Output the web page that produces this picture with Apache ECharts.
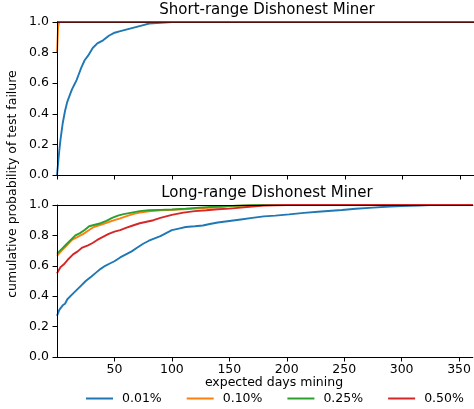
<!DOCTYPE html>
<html><head><meta charset="utf-8">
<script src="https://cdn.jsdelivr.net/npm/echarts/dist/echarts.min.js"></script>
<style>html,body{margin:0;padding:0;background:#fff}#c{width:474px;height:409px}</style>
</head><body><div id="c"></div>
<script>
const seriesNames = ['0.01%', '0.10%', '0.25%', '0.50%'];
const colors = ['#1f77b4', '#ff7f0e', '#2ca02c', '#d62728'];
const titles = ['Short-range Dishonest Miner', 'Long-range Dishonest Miner'];
const xLabel = 'expected days mining';
const yLabel = 'cumulative probability of test failure';

// Short-range panel
const shortBlue = [[0,0.0],[1,0.08],[2,0.16],[3,0.23],[5,0.34],[7,0.42],[9,0.48],[11,0.52],[13,0.56],[15,0.59],[17,0.62],[19,0.66],[21,0.70],[24,0.75],[27,0.78],[31,0.83],[35,0.86],[40,0.88],[45,0.91],[50,0.93],[55,0.94],[60,0.95],[65,0.96],[70,0.97],[75,0.98],[80,0.99],[90,0.995],[100,1.0],[362,1.0]];
const shortOrange = [[0,0.8],[1,0.97],[2,1.0],[362,1.0]];
const shortGreen = [[0,1.0],[362,1.0]];
const shortRed = [[0,1.0],[362,1.0]];

// Long-range panel
const longBlue = [[0,0.27],[2,0.31],[5,0.34],[7,0.35],[9,0.38],[13,0.41],[17,0.44],[21,0.47],[25,0.50],[30,0.53],[34,0.555],[38,0.58],[42,0.60],[46,0.615],[50,0.63],[55,0.655],[60,0.675],[65,0.695],[70,0.72],[75,0.745],[80,0.765],[85,0.78],[90,0.795],[95,0.815],[100,0.835],[106,0.845],[112,0.855],[120,0.86],[127,0.865],[133,0.875],[140,0.885],[150,0.895],[160,0.905],[170,0.915],[180,0.925],[190,0.93],[202,0.938],[215,0.948],[230,0.957],[248,0.967],[260,0.975],[275,0.983],[290,0.99],[300,0.993],[315,0.997],[325,1.0],[362,1.0]];
const longOrange = [[0,0.665],[4,0.70],[8,0.73],[13,0.77],[18,0.79],[23,0.81],[28,0.835],[32,0.855],[36,0.865],[40,0.875],[45,0.888],[50,0.90],[55,0.912],[60,0.925],[66,0.94],[72,0.95],[80,0.958],[90,0.965],[100,0.968],[110,0.972],[124,0.978],[140,0.985],[153,0.993],[170,0.998],[190,1.0],[362,1.0]];
const longGreen = [[0,0.68],[4,0.71],[8,0.74],[12,0.77],[16,0.80],[20,0.815],[24,0.835],[28,0.86],[33,0.87],[38,0.88],[43,0.895],[48,0.915],[53,0.93],[58,0.94],[65,0.95],[72,0.96],[80,0.965],[90,0.968],[100,0.97],[112,0.976],[124,0.983],[140,0.99],[153,0.994],[170,0.999],[180,1.0],[362,1.0]];
const longRed = [[0,0.55],[3,0.59],[6,0.61],[10,0.645],[14,0.675],[18,0.695],[22,0.72],[27,0.735],[31,0.75],[35,0.77],[40,0.79],[45,0.81],[50,0.825],[55,0.835],[60,0.85],[66,0.865],[72,0.88],[78,0.89],[84,0.90],[90,0.915],[100,0.935],[110,0.95],[120,0.96],[130,0.965],[140,0.972],[150,0.976],[160,0.983],[170,0.99],[180,0.997],[200,1.0],[362,1.0]];

const shortData = [shortBlue, shortOrange, shortGreen, shortRed];
const longData = [longBlue, longOrange, longGreen, longRed];

const FONT = 'DejaVu Sans';
const X_MIN = 0, X_MAX = 362;

function xAx(grid, pos, labels, lineColor) {
  const base = {
    gridIndex: grid, type: 'value', min: X_MIN, max: X_MAX, interval: 50, position: pos, z: 5,
    axisLine: { show: true, onZero: false, lineStyle: { color: lineColor || '#000', width: 1 } },
    splitLine: { show: false }
  };
  if (pos === 'top') {
    base.axisTick = { show: false };
    base.axisLabel = { show: false };
  } else {
    base.axisTick = { show: true, inside: false, length: 4.5, lineStyle: { color: '#000', width: 1 } };
    base.axisLabel = { show: labels, showMinLabel: false, showMaxLabel: false, color: '#000', fontFamily: FONT, fontSize: 12.5, margin: 6 };
  }
  return base;
}
function yAx(grid) {
  return {
    gridIndex: grid, type: 'value', min: 0, max: 1, interval: 0.2, z: 5,
    axisLine: { show: true, onZero: false, lineStyle: { color: '#000', width: 1 } },
    axisTick: { show: true, inside: false, length: 4.5, lineStyle: { color: '#000', width: 1 } },
    axisLabel: { color: '#000', fontFamily: FONT, fontSize: 12.5, margin: 8, formatter: v => v.toFixed(1) },
    splitLine: { show: false }
  };
}

const series = [];
seriesNames.forEach((n, i) => {
  series.push({ name: n, type: 'line', xAxisIndex: 0, yAxisIndex: 0, data: shortData[i], symbol: 'none', showSymbol: false, color: colors[i], lineStyle: { width: 1.9, color: colors[i] }, z: 2 + i * 0.1 });
  series.push({ name: n, type: 'line', xAxisIndex: 2, yAxisIndex: 1, data: longData[i], symbol: 'none', showSymbol: false, color: colors[i], lineStyle: { width: 1.9, color: colors[i] }, z: 2 + i * 0.1 });
});

const chart = echarts.init(document.getElementById('c'), null, { renderer: 'canvas' });
chart.setOption({
  animation: false,
  backgroundColor: '#fff',
  grid: [
    { left: 57, top: 22, width: 417, height: 153 },
    { left: 57, top: 205, width: 417, height: 152 }
  ],
  xAxis: [xAx(0, 'bottom', false), xAx(0, 'top', false, 'rgba(0,0,0,0.6)'), xAx(1, 'bottom', true), xAx(1, 'top', false)],
  yAxis: [yAx(0), yAx(1)],
  legend: {
    data: seriesNames.map((n, i) => ({ name: n, icon: 'rect', itemStyle: { color: colors[i] } })),
    left: 86, top: 392, width: 440, padding: 0, orient: 'horizontal',
    itemWidth: 27, itemHeight: 2, itemGap: 25,
    textStyle: { color: '#000', fontFamily: FONT, fontSize: 12.5, padding: [0, 0, 0, 4] }
  },
  graphic: [
    { type: 'text', x: 267, y: 10, style: { text: titles[0], fill: '#000', font: '15px "DejaVu Sans"', textAlign: 'center', textVerticalAlign: 'middle' } },
    { type: 'text', x: 267, y: 193, style: { text: titles[1], fill: '#000', font: '15px "DejaVu Sans"', textAlign: 'center', textVerticalAlign: 'middle' } },
    { type: 'text', x: 274, y: 383, style: { text: xLabel, fill: '#000', font: '12.5px "DejaVu Sans"', textAlign: 'center', textVerticalAlign: 'middle' } },
    { type: 'text', x: 13, y: 184, rotation: Math.PI / 2, style: { text: yLabel, fill: '#000', font: '12.5px "DejaVu Sans"', textAlign: 'center', textVerticalAlign: 'middle' } }
  ],
  series: series
});
</script></body></html>
